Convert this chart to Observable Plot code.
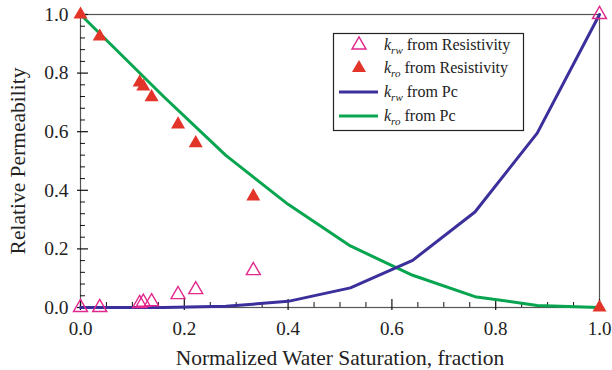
<!DOCTYPE html>
<html>
<head>
<meta charset="utf-8">
<script src="https://cdn.jsdelivr.net/npm/d3@7"></script>
<script src="https://cdn.jsdelivr.net/npm/@observablehq/plot@0.6"></script>
<style>
  html, body { margin: 0; padding: 0; background: #fff; }
  #chart svg, #chart svg text { font-family: "Liberation Serif", "Times New Roman", serif !important; }
</style>
</head>
<body>
<div id="chart"></div>
<script>
// Resistivity-derived points
const swRes  = [0.0, 0.037, 0.114, 0.121, 0.137, 0.188, 0.222, 0.333, 1.0];
const kroRes = [1.0, 0.925, 0.768, 0.754, 0.718, 0.625, 0.561, 0.379, 0.0];
const krwRes = [0.0, 0.0, 0.014, 0.018, 0.02, 0.044, 0.061, 0.126, 1.0];

// Capillary-pressure-derived curves
const swPc  = [0.0, 0.04, 0.16, 0.28, 0.40, 0.52, 0.64, 0.76, 0.88, 1.0];
const krwPc = [0.0, 0.0, 0.0, 0.004, 0.021, 0.067, 0.161, 0.326, 0.595, 1.0];
const kroPc = [1.0, 0.93, 0.72, 0.519, 0.352, 0.21, 0.11, 0.037, 0.007, 0.0];

// Ticks
const xMajor = [0, 0.2, 0.4, 0.6, 0.8, 1.0];
const xMinor = [0.05, 0.1, 0.15, 0.25, 0.3, 0.35, 0.45, 0.5, 0.55, 0.65, 0.7, 0.75, 0.85, 0.9, 0.95];
const yMajor = [0, 0.2, 0.4, 0.6, 0.8, 1.0];
const yMinor = [0.04, 0.08, 0.12, 0.16, 0.24, 0.28, 0.32, 0.36, 0.44, 0.48, 0.52, 0.56, 0.64, 0.68, 0.72, 0.76, 0.84, 0.88, 0.92, 0.96];

const legendItems = [
  {sub: "rw", text: " from Resistivity", kind: "open"},
  {sub: "ro", text: " from Resistivity", kind: "filled"},
  {sub: "rw", text: " from Pc", kind: "blue"},
  {sub: "ro", text: " from Pc", kind: "green"}
];

const C = {red: "#e3342a", pink: "#e2288c", blue: "#3b2f9c", green: "#08a550", frame: "#555"};

const res = swRes.map((x, i) => ({x, kro: kroRes[i], krw: krwRes[i]}));
const pc = swPc.map((x, i) => ({x, kro: kroPc[i], krw: krwPc[i]}));

const W = 612, H = 370, mL = 80, mR = 13, mT = 14, mB = 63;
const fw = W - mL - mR, fh = H - mT - mB;
const SERIF = "'Liberation Serif', 'Times New Roman', serif";

const plot = Plot.plot({
  width: W, height: H,
  marginLeft: mL, marginRight: mR, marginTop: mT, marginBottom: mB,
  style: {fontFamily: SERIF, fontSize: "19px", color: "#222", background: "#fff"},
  x: {domain: [0, 1]},
  y: {domain: [0, 1]},
  marks: [
    Plot.frame({stroke: C.frame, strokeWidth: 1.2}),
    Plot.ruleX(xMajor, {x: d => d, insetTop: fh - 8, insetBottom: -3, stroke: "#111", strokeWidth: 1.2}),
    Plot.ruleX(xMinor, {x: d => d, insetTop: fh - 5, stroke: "#111", strokeWidth: 1}),
    Plot.ruleY(yMajor, {y: d => d, insetRight: fw - 8, insetLeft: -3, stroke: "#111", strokeWidth: 1.2}),
    Plot.ruleY(yMinor, {y: d => d, insetRight: fw - 5, stroke: "#111", strokeWidth: 1}),
    Plot.axisX(xMajor, {tickSize: 0, tickPadding: 14, tickFormat: d3.format(".1f"), fontSize: 19,
      label: "Normalized Water Saturation, fraction", labelAnchor: "center", labelArrow: "none", labelOffset: 57}),
    Plot.axisY(yMajor, {tickSize: 0, tickPadding: 12, tickFormat: d3.format(".1f"), fontSize: 19.5,
      label: "Relative Permeability", labelAnchor: "center", labelArrow: "none", labelOffset: 71}),
    Plot.line(pc, {x: "x", y: "kro", stroke: C.green, strokeWidth: 3}),
    Plot.line(pc, {x: "x", y: "krw", stroke: C.blue, strokeWidth: 3}),
    Plot.dot(res, {x: "x", y: "kro", symbol: "triangle", r: 5.2, fill: C.red}),
    Plot.dot(res, {x: "x", y: "krw", symbol: "triangle", r: 5.2, fill: "none", stroke: C.pink, strokeWidth: 1.4})
  ]
});

const svg = d3.select(plot);
svg.attr("font-family", SERIF);
svg.selectAll("text").style("font-family", SERIF);
// axis titles
svg.selectAll("text").filter(function() {
  return this.textContent === "Normalized Water Saturation, fraction" || this.textContent === "Relative Permeability";
}).style("font-size", "21.5px");

// Legend
const g = svg.append("g").attr("font-family", SERIF).style("font-family", SERIF)
  .attr("font-size", 16).attr("fill", "#222").attr("text-anchor", "start");
g.append("rect").attr("x", 333.5).attr("y", 33.5).attr("width", 190).attr("height", 97)
  .attr("fill", "#fff").attr("stroke", "#222").attr("stroke-width", 1.2);
const rowY = [45, 68, 92, 116];
legendItems.forEach((d, i) => {
  const y = rowY[i];
  if (d.kind === "open" || d.kind === "filled") {
    const path = d3.symbol(d3.symbolTriangle, Math.PI * 5.2 * 5.2)();
    g.append("path").attr("d", path).attr("transform", `translate(359,${y})`)
      .attr("fill", d.kind === "filled" ? C.red : "none")
      .attr("stroke", d.kind === "open" ? C.pink : "none").attr("stroke-width", 1.4);
  } else {
    g.append("line").attr("x1", 339).attr("x2", 378).attr("y1", y).attr("y2", y)
      .attr("stroke", d.kind === "blue" ? C.blue : C.green).attr("stroke-width", 3);
  }
  const t = g.append("text").attr("x", 384).attr("y", y + 5).attr("text-anchor", "start");
  t.append("tspan").attr("font-style", "italic").text("k");
  t.append("tspan").attr("font-style", "italic").attr("font-size", 11).attr("dy", 4).text(d.sub);
  t.append("tspan").attr("dy", -4).text(d.text);
});

document.getElementById("chart").appendChild(plot);
</script>
</body>
</html>
